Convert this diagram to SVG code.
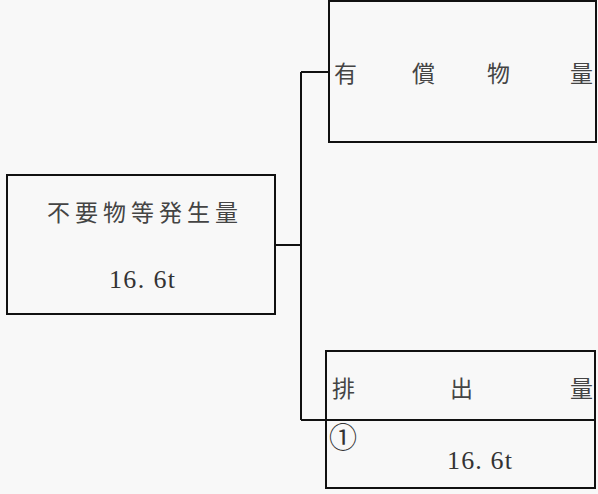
<svg xmlns="http://www.w3.org/2000/svg" width="598" height="494" viewBox="0 0 598 494">
<style>
.box{fill:none;stroke:#111;stroke-width:2}
.conn{fill:none;stroke:#111;stroke-width:2}
.jp{font-family:"Liberation Serif","Noto Sans CJK JP",serif;font-size:23px;fill:#444}
.num{font-family:"Liberation Serif","Noto Sans CJK JP",serif;font-size:26px;fill:#333}
.circ{font-family:"Noto Sans CJK JP",sans-serif;font-size:28px;fill:#333}
</style>
<rect width="598" height="494" fill="#f8f8f8"/>
<g id="source">
<rect class="box" x="7" y="175" width="268" height="139"/>
<text class="jp" x="47" y="221" textLength="191" lengthAdjust="spacing">不要物等発生量</text>
<text class="num" x="109" y="288" textLength="66" lengthAdjust="spacing">16. 6t</text>
</g>
<g id="valuable">
<rect class="box" x="329" y="1" width="267" height="141"/>
<text class="jp" x="334" y="82">有</text>
<text class="jp" x="412" y="82">償</text>
<text class="jp" x="487" y="82">物</text>
<text class="jp" x="570" y="82">量</text>
</g>
<g id="discharge">
<rect class="box" x="326" y="351" width="269" height="137"/>
<text class="jp" x="332" y="397">排</text>
<text class="jp" x="450" y="397">出</text>
<text class="jp" x="570" y="397">量</text>
<text class="circ" x="329" y="448">①</text>
<text class="num" x="447" y="469" textLength="65" lengthAdjust="spacing">16. 6t</text>
</g>
<g id="connectors">
<path class="conn" d="M275 245 H301 M301 72 V420 M301 72 H329 M301 420 H595"/>
</g>
</svg>
